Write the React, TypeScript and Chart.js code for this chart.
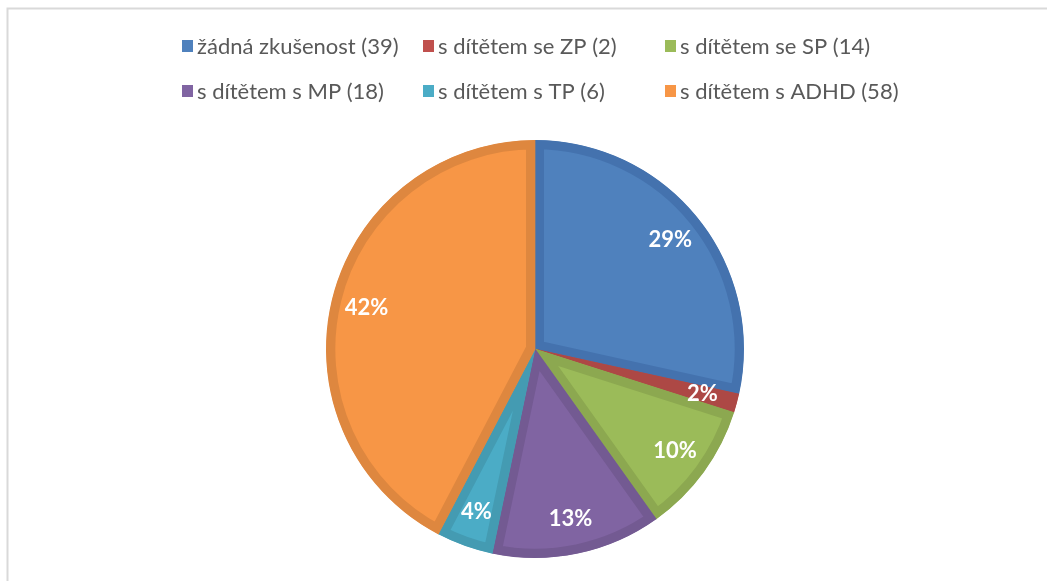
import React, { useEffect, useRef } from "react";
import { Chart, registerables } from "chart.js";

Chart.register(...registerables);

const categories = [
  "žádná zkušenost (39)",
  "s dítětem se ZP (2)",
  "s dítětem se SP (14)",
  "s dítětem s MP (18)",
  "s dítětem s TP (6)",
  "s dítětem s ADHD (58)",
];
const values = [39, 2, 14, 18, 6, 58];
const percentLabels = ["29%", "2%", "10%", "13%", "4%", "42%"];
const fillColors = ["#4F81BD", "#C0504D", "#9BBB59", "#8064A2", "#4BACC6", "#F79646"];
const edgeColors = ["#4472AE", "#AD4845", "#8CA850", "#735A92", "#449BB2", "#DE873F"];

const legendCols = [182, 423, 665];
const legendRows = [46, 91];

const framePlugin = {
  id: "frame",
  beforeDraw(chart: any) {
    const ctx = chart.ctx;
    ctx.save();
    ctx.fillStyle = "#ffffff";
    ctx.fillRect(0, 0, chart.width, chart.height);
    ctx.strokeStyle = "#D9D9D9";
    ctx.lineWidth = 2;
    ctx.beginPath();
    ctx.moveTo(7.5, chart.height + 5);
    ctx.lineTo(7.5, 8.5);
    ctx.lineTo(chart.width + 5, 8.5);
    ctx.stroke();
    ctx.restore();
  },
};

const legendPlugin = {
  id: "gridLegend",
  afterDraw(chart: any) {
    const ctx = chart.ctx;
    const labels = chart.data.labels as string[];
    const colors = chart.data.datasets[0].backgroundColor as string[];
    ctx.save();
    ctx.font = "22px Lato, 'Open Sans', sans-serif";
    ctx.textBaseline = "middle";
    ctx.textAlign = "left";
    labels.forEach((lab, i) => {
      const x = legendCols[i % 3];
      const y = legendRows[Math.floor(i / 3)];
      ctx.fillStyle = colors[i];
      ctx.fillRect(x, y - 6, 11, 12);
      ctx.fillStyle = "#595959";
      ctx.fillText(lab, x + 15, y + 1);
    });
    ctx.restore();
  },
};

const pctPlugin = {
  id: "pctLabels",
  afterDatasetsDraw(chart: any) {
    const ctx = chart.ctx;
    const meta = chart.getDatasetMeta(0);
    ctx.save();
    ctx.font = "bold 22px Lato, 'Open Sans', sans-serif";
    ctx.fillStyle = "#ffffff";
    ctx.textAlign = "center";
    ctx.textBaseline = "middle";
    meta.data.forEach((arc: any, i: number) => {
      const p = arc.getProps(["x", "y", "startAngle", "endAngle", "outerRadius"], true);
      const mid = (p.startAngle + p.endAngle) / 2;
      const r = p.outerRadius * 0.83;
      ctx.fillText(percentLabels[i], p.x + Math.cos(mid) * r, p.y + Math.sin(mid) * r);
    });
    ctx.restore();
  },
};

export default function App() {
  const ref = useRef<HTMLCanvasElement>(null);
  useEffect(() => {
    if (!ref.current) return;
    const chart = new Chart(ref.current, {
      type: "pie",
      data: {
        labels: categories,
        datasets: [
          {
            data: values,
            backgroundColor: fillColors,
            borderColor: edgeColors,
            borderWidth: 9,
            borderAlign: "inner",
            hoverOffset: 0,
          } as any,
        ],
      },
      options: {
        animation: false,
        responsive: true,
        maintainAspectRatio: false,
        layout: { padding: { top: 140, bottom: 23, left: 23, right: 0 } },
        plugins: {
          legend: { display: false },
          tooltip: { enabled: false },
        },
      },
      plugins: [framePlugin, legendPlugin, pctPlugin],
    });
    return () => chart.destroy();
  }, []);
  return (
    <div style={{ position: "fixed", left: 0, top: 0, width: 1047, height: 581, background: "#fff" }}>
      <canvas ref={ref} />
    </div>
  );
}
